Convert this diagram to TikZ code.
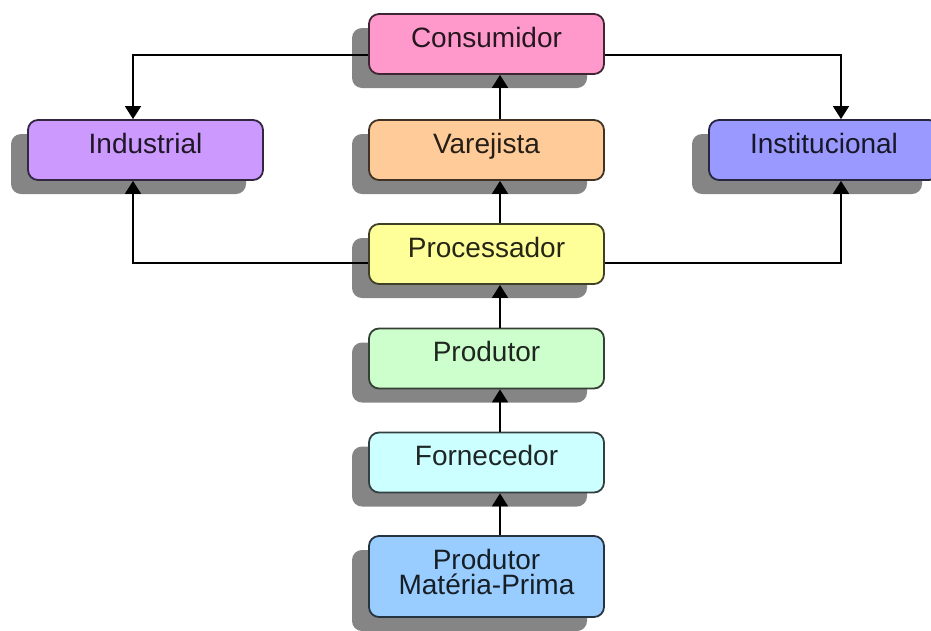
\documentclass[tikz,border=0pt]{standalone}
\usepackage{fontspec}
\setmainfont{Liberation Sans}
\usetikzlibrary{shadows,arrows.meta}

\definecolor{consfill}{HTML}{FF99CC}
\definecolor{indfill}{HTML}{CC99FF}
\definecolor{varfill}{HTML}{FFCC99}
\definecolor{instfill}{HTML}{9999FF}
\definecolor{procfill}{HTML}{FFFF99}
\definecolor{prodfill}{HTML}{CCFFCC}
\definecolor{fornfill}{HTML}{CCFFFF}
\definecolor{pmpfill}{HTML}{99CCFF}

\begin{document}
\begin{tikzpicture}[x=1pt,y=-1pt,
  box/.style={draw=#1!25!black,fill=#1,text=#1!15!black,line width=1.8pt,
    rounded corners=10pt,minimum width=235pt,minimum height=60pt,inner sep=0pt,
    align=center,font=\fontsize{28}{25.5}\selectfont,text height=20pt,text depth=14pt,
    drop shadow={shadow xshift=-17pt,shadow yshift=-14pt,fill=black!48,opacity=1}},
  link/.style={line width=1.6pt,-{Triangle[width=16pt,length=13pt]}}]
\useasboundingbox (0,0) rectangle (931,630);
% boxes
\node[box=consfill] (cons) at (486.5,44) {Consumidor};
\node[box=indfill] (ind) at (145.5,150) {Industrial};
\node[box=varfill] (var) at (486.5,150) {Varejista};
\node[box=instfill,minimum width=230pt] (inst) at (824,150) {Institucional};
\node[box=procfill] (proc) at (486.5,254) {Processador};
\node[box=prodfill] (prod) at (486.5,358.5) {Produtor};
\node[box=fornfill] (forn) at (486.5,462.5) {Fornecedor};
\node[box=pmpfill,minimum height=81pt,text height=50pt,text depth=14pt] (pmp) at (486.5,576.5) {Produtor\\Matéria-Prima};
% connectors
\draw[link] ([yshift=-11pt]cons.west) -| ([xshift=-12.5pt]ind.north);
\draw[link] ([yshift=-11pt]cons.east) -| ([xshift=17pt]inst.north);
\draw[link] ([yshift=-9pt]proc.west) -| ([xshift=-12.5pt]ind.south);
\draw[link] ([yshift=-9pt]proc.east) -| ([xshift=17pt]inst.south);
\draw[link] ([xshift=13.5pt]var.north) -- ([xshift=13.5pt]cons.south);
\draw[link] ([xshift=13.5pt]proc.north) -- ([xshift=13.5pt]var.south);
\draw[link] ([xshift=13.5pt]prod.north) -- ([xshift=13.5pt]proc.south);
\draw[link] ([xshift=13.5pt]forn.north) -- ([xshift=13.5pt]prod.south);
\draw[link] ([xshift=13.5pt]pmp.north) -- ([xshift=13.5pt]forn.south);
\end{tikzpicture}
\end{document}
